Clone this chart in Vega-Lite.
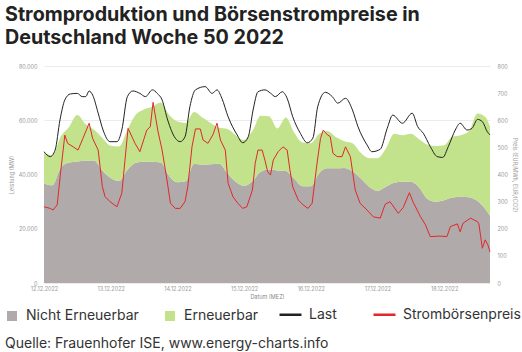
{
  "$schema": "https://vega.github.io/schema/vega-lite/v6.json",
  "width": 446,
  "height": 217,
  "autosize": {"type": "none"},
  "padding": {"left": 44, "top": 66, "right": 32, "bottom": 69},
  "background": "white",
  "config": {"view": {"stroke": null}, "font": "Inter"},
  "title": {
    "text": ["Stromproduktion und Börsenstrompreise in", "Deutschland Woche 50 2022"],
    "anchor": "start",
    "frame": "group",
    "dx": -39,
    "offset": 16,
    "fontSize": 19.7,
    "fontWeight": "bold",
    "color": "#222222",
    "lineHeight": 23,
    "font": "Inter"
  },
  "datasets": {
    "erzeugung": [
      {"zeit": "2022-12-12T00:00", "nicht_erneuerbar": 36700, "erneuerbar": 11500},
      {"zeit": "2022-12-12T03:00", "nicht_erneuerbar": 36000, "erneuerbar": 11000},
      {"zeit": "2022-12-12T06:00", "nicht_erneuerbar": 42500, "erneuerbar": 11400},
      {"zeit": "2022-12-12T09:00", "nicht_erneuerbar": 44400, "erneuerbar": 13100},
      {"zeit": "2022-12-12T12:00", "nicht_erneuerbar": 44800, "erneuerbar": 17100},
      {"zeit": "2022-12-12T15:00", "nicht_erneuerbar": 45100, "erneuerbar": 13400},
      {"zeit": "2022-12-12T18:00", "nicht_erneuerbar": 45200, "erneuerbar": 11300},
      {"zeit": "2022-12-12T21:00", "nicht_erneuerbar": 41500, "erneuerbar": 12000},
      {"zeit": "2022-12-13T00:00", "nicht_erneuerbar": 38700, "erneuerbar": 11900},
      {"zeit": "2022-12-13T03:00", "nicht_erneuerbar": 37600, "erneuerbar": 12700},
      {"zeit": "2022-12-13T06:00", "nicht_erneuerbar": 41700, "erneuerbar": 14700},
      {"zeit": "2022-12-13T09:00", "nicht_erneuerbar": 44300, "erneuerbar": 17700},
      {"zeit": "2022-12-13T12:00", "nicht_erneuerbar": 44700, "erneuerbar": 19300},
      {"zeit": "2022-12-13T15:00", "nicht_erneuerbar": 44700, "erneuerbar": 20300},
      {"zeit": "2022-12-13T18:00", "nicht_erneuerbar": 44400, "erneuerbar": 22100},
      {"zeit": "2022-12-13T21:00", "nicht_erneuerbar": 39500, "erneuerbar": 22500},
      {"zeit": "2022-12-14T00:00", "nicht_erneuerbar": 37100, "erneuerbar": 22400},
      {"zeit": "2022-12-14T03:00", "nicht_erneuerbar": 37500, "erneuerbar": 21500},
      {"zeit": "2022-12-14T06:00", "nicht_erneuerbar": 44000, "erneuerbar": 19000},
      {"zeit": "2022-12-14T09:00", "nicht_erneuerbar": 43700, "erneuerbar": 17300},
      {"zeit": "2022-12-14T12:00", "nicht_erneuerbar": 43800, "erneuerbar": 15200},
      {"zeit": "2022-12-14T15:00", "nicht_erneuerbar": 44000, "erneuerbar": 13200},
      {"zeit": "2022-12-14T18:00", "nicht_erneuerbar": 40500, "erneuerbar": 16300},
      {"zeit": "2022-12-14T21:00", "nicht_erneuerbar": 37300, "erneuerbar": 17200},
      {"zeit": "2022-12-15T00:00", "nicht_erneuerbar": 35800, "erneuerbar": 16900},
      {"zeit": "2022-12-15T03:00", "nicht_erneuerbar": 37500, "erneuerbar": 18500},
      {"zeit": "2022-12-15T06:00", "nicht_erneuerbar": 41000, "erneuerbar": 20700},
      {"zeit": "2022-12-15T09:00", "nicht_erneuerbar": 41800, "erneuerbar": 19700},
      {"zeit": "2022-12-15T12:00", "nicht_erneuerbar": 41500, "erneuerbar": 15500},
      {"zeit": "2022-12-15T15:00", "nicht_erneuerbar": 41300, "erneuerbar": 19700},
      {"zeit": "2022-12-15T18:00", "nicht_erneuerbar": 38500, "erneuerbar": 17000},
      {"zeit": "2022-12-15T21:00", "nicht_erneuerbar": 35700, "erneuerbar": 16100},
      {"zeit": "2022-12-16T00:00", "nicht_erneuerbar": 35700, "erneuerbar": 15800},
      {"zeit": "2022-12-16T03:00", "nicht_erneuerbar": 40500, "erneuerbar": 14500},
      {"zeit": "2022-12-16T06:00", "nicht_erneuerbar": 42300, "erneuerbar": 13700},
      {"zeit": "2022-12-16T09:00", "nicht_erneuerbar": 42300, "erneuerbar": 11500},
      {"zeit": "2022-12-16T12:00", "nicht_erneuerbar": 42400, "erneuerbar": 9900},
      {"zeit": "2022-12-16T15:00", "nicht_erneuerbar": 41200, "erneuerbar": 10300},
      {"zeit": "2022-12-16T18:00", "nicht_erneuerbar": 38500, "erneuerbar": 9500},
      {"zeit": "2022-12-16T21:00", "nicht_erneuerbar": 35500, "erneuerbar": 10500},
      {"zeit": "2022-12-17T00:00", "nicht_erneuerbar": 34000, "erneuerbar": 12000},
      {"zeit": "2022-12-17T03:00", "nicht_erneuerbar": 35500, "erneuerbar": 14000},
      {"zeit": "2022-12-17T06:00", "nicht_erneuerbar": 37000, "erneuerbar": 18000},
      {"zeit": "2022-12-17T09:00", "nicht_erneuerbar": 37300, "erneuerbar": 17200},
      {"zeit": "2022-12-17T12:00", "nicht_erneuerbar": 37300, "erneuerbar": 17700},
      {"zeit": "2022-12-17T15:00", "nicht_erneuerbar": 35200, "erneuerbar": 17800},
      {"zeit": "2022-12-17T18:00", "nicht_erneuerbar": 31000, "erneuerbar": 20000},
      {"zeit": "2022-12-17T21:00", "nicht_erneuerbar": 30000, "erneuerbar": 20500},
      {"zeit": "2022-12-18T00:00", "nicht_erneuerbar": 30500, "erneuerbar": 20300},
      {"zeit": "2022-12-18T03:00", "nicht_erneuerbar": 31500, "erneuerbar": 22500},
      {"zeit": "2022-12-18T06:00", "nicht_erneuerbar": 31800, "erneuerbar": 22700},
      {"zeit": "2022-12-18T09:00", "nicht_erneuerbar": 31600, "erneuerbar": 24400},
      {"zeit": "2022-12-18T12:00", "nicht_erneuerbar": 30200, "erneuerbar": 32300},
      {"zeit": "2022-12-18T15:00", "nicht_erneuerbar": 27000, "erneuerbar": 34000},
      {"zeit": "2022-12-18T16:30", "nicht_erneuerbar": 24800, "erneuerbar": 32800}
    ],
    "last": [
      {"zeit": "2022-12-12T00:00", "last": 48400},
      {"zeit": "2022-12-12T02:15", "last": 46600},
      {"zeit": "2022-12-12T04:00", "last": 49000},
      {"zeit": "2022-12-12T05:45", "last": 60100},
      {"zeit": "2022-12-12T07:30", "last": 67500},
      {"zeit": "2022-12-12T09:30", "last": 69700},
      {"zeit": "2022-12-12T12:00", "last": 69900},
      {"zeit": "2022-12-12T13:45", "last": 68700},
      {"zeit": "2022-12-12T15:00", "last": 68700},
      {"zeit": "2022-12-12T16:15", "last": 70800},
      {"zeit": "2022-12-12T17:30", "last": 69300},
      {"zeit": "2022-12-12T19:30", "last": 62600},
      {"zeit": "2022-12-12T21:15", "last": 56400},
      {"zeit": "2022-12-12T23:45", "last": 52100},
      {"zeit": "2022-12-13T02:15", "last": 52100},
      {"zeit": "2022-12-13T04:00", "last": 56400},
      {"zeit": "2022-12-13T06:00", "last": 68700},
      {"zeit": "2022-12-13T08:00", "last": 70800},
      {"zeit": "2022-12-13T10:30", "last": 69900},
      {"zeit": "2022-12-13T12:30", "last": 68700},
      {"zeit": "2022-12-13T15:00", "last": 71200},
      {"zeit": "2022-12-13T16:45", "last": 69900},
      {"zeit": "2022-12-13T18:30", "last": 67500},
      {"zeit": "2022-12-13T20:30", "last": 60100},
      {"zeit": "2022-12-13T23:15", "last": 53400},
      {"zeit": "2022-12-14T01:00", "last": 52100},
      {"zeit": "2022-12-14T02:45", "last": 53900},
      {"zeit": "2022-12-14T04:30", "last": 65000},
      {"zeit": "2022-12-14T06:30", "last": 71200},
      {"zeit": "2022-12-14T10:00", "last": 72400},
      {"zeit": "2022-12-14T12:30", "last": 69900},
      {"zeit": "2022-12-14T14:15", "last": 71200},
      {"zeit": "2022-12-14T16:00", "last": 68100},
      {"zeit": "2022-12-14T18:15", "last": 61300},
      {"zeit": "2022-12-14T21:30", "last": 54600},
      {"zeit": "2022-12-14T23:30", "last": 51700},
      {"zeit": "2022-12-15T01:30", "last": 53900},
      {"zeit": "2022-12-15T03:15", "last": 63800},
      {"zeit": "2022-12-15T05:00", "last": 70500},
      {"zeit": "2022-12-15T07:30", "last": 71200},
      {"zeit": "2022-12-15T09:30", "last": 70000},
      {"zeit": "2022-12-15T11:15", "last": 68700},
      {"zeit": "2022-12-15T13:45", "last": 70500},
      {"zeit": "2022-12-15T15:30", "last": 68100},
      {"zeit": "2022-12-15T17:30", "last": 61300},
      {"zeit": "2022-12-15T20:15", "last": 55200},
      {"zeit": "2022-12-15T22:45", "last": 51700},
      {"zeit": "2022-12-16T00:45", "last": 53400},
      {"zeit": "2022-12-16T02:30", "last": 65000},
      {"zeit": "2022-12-16T05:15", "last": 70300},
      {"zeit": "2022-12-16T07:45", "last": 68700},
      {"zeit": "2022-12-16T09:45", "last": 66300},
      {"zeit": "2022-12-16T12:30", "last": 68100},
      {"zeit": "2022-12-16T15:00", "last": 63800},
      {"zeit": "2022-12-16T17:00", "last": 57600},
      {"zeit": "2022-12-16T20:15", "last": 50900},
      {"zeit": "2022-12-16T22:00", "last": 48400},
      {"zeit": "2022-12-17T01:00", "last": 49300},
      {"zeit": "2022-12-17T03:30", "last": 57000},
      {"zeit": "2022-12-17T05:30", "last": 61900},
      {"zeit": "2022-12-17T09:00", "last": 58900},
      {"zeit": "2022-12-17T12:30", "last": 62600},
      {"zeit": "2022-12-17T14:30", "last": 57600},
      {"zeit": "2022-12-17T16:30", "last": 55200},
      {"zeit": "2022-12-17T19:00", "last": 50300},
      {"zeit": "2022-12-17T21:30", "last": 46600},
      {"zeit": "2022-12-17T23:30", "last": 46300},
      {"zeit": "2022-12-18T01:30", "last": 50300},
      {"zeit": "2022-12-18T04:00", "last": 56400},
      {"zeit": "2022-12-18T05:45", "last": 58900},
      {"zeit": "2022-12-18T08:15", "last": 56400},
      {"zeit": "2022-12-18T10:00", "last": 57000},
      {"zeit": "2022-12-18T12:00", "last": 60300},
      {"zeit": "2022-12-18T13:45", "last": 59500},
      {"zeit": "2022-12-18T15:30", "last": 55800},
      {"zeit": "2022-12-18T16:30", "last": 54600}
    ],
    "preis": [
      {"zeit": "2022-12-12T00:00", "preis": 281},
      {"zeit": "2022-12-12T02:15", "preis": 275},
      {"zeit": "2022-12-12T03:15", "preis": 269},
      {"zeit": "2022-12-12T04:45", "preis": 288},
      {"zeit": "2022-12-12T06:00", "preis": 410},
      {"zeit": "2022-12-12T07:30", "preis": 545},
      {"zeit": "2022-12-12T08:30", "preis": 515},
      {"zeit": "2022-12-12T10:30", "preis": 502},
      {"zeit": "2022-12-12T12:15", "preis": 490},
      {"zeit": "2022-12-12T14:00", "preis": 533},
      {"zeit": "2022-12-12T16:15", "preis": 589},
      {"zeit": "2022-12-12T17:30", "preis": 533},
      {"zeit": "2022-12-12T19:30", "preis": 490},
      {"zeit": "2022-12-12T21:00", "preis": 355},
      {"zeit": "2022-12-12T22:00", "preis": 318},
      {"zeit": "2022-12-12T23:45", "preis": 300},
      {"zeit": "2022-12-13T02:15", "preis": 281},
      {"zeit": "2022-12-13T04:00", "preis": 331},
      {"zeit": "2022-12-13T06:15", "preis": 570},
      {"zeit": "2022-12-13T08:45", "preis": 515},
      {"zeit": "2022-12-13T10:30", "preis": 484},
      {"zeit": "2022-12-13T13:00", "preis": 564},
      {"zeit": "2022-12-13T14:15", "preis": 576},
      {"zeit": "2022-12-13T15:15", "preis": 666},
      {"zeit": "2022-12-13T17:00", "preis": 560},
      {"zeit": "2022-12-13T18:30", "preis": 490},
      {"zeit": "2022-12-13T20:15", "preis": 380},
      {"zeit": "2022-12-13T21:30", "preis": 294},
      {"zeit": "2022-12-13T23:15", "preis": 275},
      {"zeit": "2022-12-14T01:00", "preis": 275},
      {"zeit": "2022-12-14T02:45", "preis": 300},
      {"zeit": "2022-12-14T03:45", "preis": 355},
      {"zeit": "2022-12-14T05:15", "preis": 502},
      {"zeit": "2022-12-14T06:30", "preis": 568},
      {"zeit": "2022-12-14T08:15", "preis": 568},
      {"zeit": "2022-12-14T09:15", "preis": 527},
      {"zeit": "2022-12-14T11:00", "preis": 515},
      {"zeit": "2022-12-14T12:45", "preis": 546},
      {"zeit": "2022-12-14T14:15", "preis": 589},
      {"zeit": "2022-12-14T15:30", "preis": 527},
      {"zeit": "2022-12-14T17:15", "preis": 490},
      {"zeit": "2022-12-14T18:15", "preis": 368},
      {"zeit": "2022-12-14T20:00", "preis": 318},
      {"zeit": "2022-12-14T21:45", "preis": 294},
      {"zeit": "2022-12-14T23:30", "preis": 275},
      {"zeit": "2022-12-15T01:00", "preis": 281},
      {"zeit": "2022-12-15T03:00", "preis": 343},
      {"zeit": "2022-12-15T04:00", "preis": 441},
      {"zeit": "2022-12-15T05:00", "preis": 490},
      {"zeit": "2022-12-15T06:30", "preis": 490},
      {"zeit": "2022-12-15T07:30", "preis": 453},
      {"zeit": "2022-12-15T08:30", "preis": 410},
      {"zeit": "2022-12-15T09:30", "preis": 398},
      {"zeit": "2022-12-15T10:30", "preis": 453},
      {"zeit": "2022-12-15T12:15", "preis": 484},
      {"zeit": "2022-12-15T14:00", "preis": 502},
      {"zeit": "2022-12-15T15:30", "preis": 490},
      {"zeit": "2022-12-15T16:30", "preis": 417},
      {"zeit": "2022-12-15T17:30", "preis": 355},
      {"zeit": "2022-12-15T19:30", "preis": 306},
      {"zeit": "2022-12-15T21:15", "preis": 288},
      {"zeit": "2022-12-15T23:00", "preis": 275},
      {"zeit": "2022-12-16T00:30", "preis": 294},
      {"zeit": "2022-12-16T02:15", "preis": 441},
      {"zeit": "2022-12-16T03:30", "preis": 533},
      {"zeit": "2022-12-16T04:30", "preis": 564},
      {"zeit": "2022-12-16T06:00", "preis": 546},
      {"zeit": "2022-12-16T07:00", "preis": 540},
      {"zeit": "2022-12-16T08:00", "preis": 478},
      {"zeit": "2022-12-16T09:30", "preis": 466},
      {"zeit": "2022-12-16T11:15", "preis": 466},
      {"zeit": "2022-12-16T12:30", "preis": 502},
      {"zeit": "2022-12-16T14:15", "preis": 466},
      {"zeit": "2022-12-16T16:00", "preis": 343},
      {"zeit": "2022-12-16T17:45", "preis": 294},
      {"zeit": "2022-12-16T20:15", "preis": 269},
      {"zeit": "2022-12-16T22:30", "preis": 244},
      {"zeit": "2022-12-17T01:00", "preis": 239},
      {"zeit": "2022-12-17T02:45", "preis": 290},
      {"zeit": "2022-12-17T04:30", "preis": 300},
      {"zeit": "2022-12-17T07:30", "preis": 257},
      {"zeit": "2022-12-17T09:15", "preis": 278},
      {"zeit": "2022-12-17T11:30", "preis": 333},
      {"zeit": "2022-12-17T12:45", "preis": 300},
      {"zeit": "2022-12-17T15:30", "preis": 244},
      {"zeit": "2022-12-17T17:15", "preis": 215},
      {"zeit": "2022-12-17T19:00", "preis": 171},
      {"zeit": "2022-12-17T22:30", "preis": 173},
      {"zeit": "2022-12-18T01:00", "preis": 171},
      {"zeit": "2022-12-18T02:15", "preis": 208},
      {"zeit": "2022-12-18T04:45", "preis": 218},
      {"zeit": "2022-12-18T05:45", "preis": 189},
      {"zeit": "2022-12-18T06:45", "preis": 220},
      {"zeit": "2022-12-18T09:30", "preis": 239},
      {"zeit": "2022-12-18T12:00", "preis": 226},
      {"zeit": "2022-12-18T12:30", "preis": 218},
      {"zeit": "2022-12-18T13:45", "preis": 128},
      {"zeit": "2022-12-18T14:45", "preis": 159},
      {"zeit": "2022-12-18T15:45", "preis": 140},
      {"zeit": "2022-12-18T16:30", "preis": 115}
    ]
  },
  "layer": [
    {
      "layer": [
        {
          "data": {"name": "erzeugung"},
          "transform": [{"fold": ["nicht_erneuerbar", "erneuerbar"], "as": ["quelle", "leistung"]}],
          "mark": {"type": "area", "interpolate": "monotone"},
          "encoding": {
            "x": {
              "field": "zeit",
              "type": "temporal",
              "scale": {"domain": [
                {"year": 2022, "month": 12, "date": 12, "hours": 0},
                {"year": 2022, "month": 12, "date": 18, "hours": 16, "minutes": 30}
              ]},
              "axis": {
                "values": [
                  {"year": 2022, "month": 12, "date": 12},
                  {"year": 2022, "month": 12, "date": 13},
                  {"year": 2022, "month": 12, "date": 14},
                  {"year": 2022, "month": 12, "date": 15},
                  {"year": 2022, "month": 12, "date": 16},
                  {"year": 2022, "month": 12, "date": 17},
                  {"year": 2022, "month": 12, "date": 18}
                ],
                "format": "%d.%m.%Y",
                "labelFontSize": 5.5,
                "labelColor": "#999999",
                "labelFlush": false,
                "labelPadding": 3,
                "ticks": false,
                "domain": false,
                "grid": false,
                "title": "Datum (MEZ)",
                "titleFontSize": 5.5,
                "titleFontWeight": "normal",
                "titleColor": "#888888",
                "titlePadding": 3
              }
            },
            "y": {
              "field": "leistung",
              "type": "quantitative",
              "stack": "zero",
              "scale": {"domain": [0, 80000]},
              "axis": {
                "values": [0, 10000, 20000, 30000, 40000, 50000, 60000, 70000, 80000],
                "labelExpr": "replace(format(datum.value, ','), ',', '.')",
                "labelFontSize": 5.5,
                "labelColor": "#999999",
                "labelPadding": 7,
                "ticks": false,
                "domain": false,
                "grid": true,
                "gridColor": "#ebebeb",
                "title": "Leistung (MW)",
                "titleFontSize": 5.5,
                "titleFontWeight": "normal",
                "titleColor": "#999999",
                "titlePadding": 4
              }
            },
            "fill": {
              "field": "quelle",
              "type": "nominal",
              "scale": {"domain": ["nicht_erneuerbar", "erneuerbar"], "range": ["#b0abaa", "#c2e28c"]},
              "legend": {
                "orient": "none",
                "legendX": -39,
                "legendY": 243,
                "direction": "horizontal",
                "symbolType": "square",
                "symbolSize": 100,
                "symbolStrokeWidth": 0,
                "labelFontSize": 14,
                "labelColor": "#333333",
                "labelOffset": 7,
                "columnPadding": 24,
                "labelExpr": "datum.label == 'nicht_erneuerbar' ? 'Nicht Erneuerbar' : 'Erneuerbar'",
                "title": "Quelle: Frauenhofer ISE, www.energy-charts.info",
                "titleOrient": "bottom",
                "titleAnchor": "start",
                "titleFontSize": 14,
                "titleFontWeight": "normal",
                "titleColor": "#333333",
                "titlePadding": 14,
                "titleLimit": 500
              }
            },
            "order": {"field": "quelle", "sort": "descending"}
          }
        },
        {
          "data": {"name": "last"},
          "mark": {"type": "line", "interpolate": "monotone", "strokeWidth": 1},
          "encoding": {
            "x": {"field": "zeit", "type": "temporal"},
            "y": {"field": "last", "type": "quantitative"},
            "stroke": {
              "datum": "Last",
              "type": "nominal",
              "scale": {"domain": ["Last", "Strombörsenpreis"], "range": ["#222222", "#e3262b"]},
              "legend": {
                "orient": "none",
                "legendX": 234,
                "legendY": 236,
                "direction": "horizontal",
                "symbolType": "stroke",
                "symbolSize": 484,
                "symbolStrokeWidth": 2.5,
                "labelFontSize": 14,
                "labelColor": "#333333",
                "labelOffset": 6,
                "columnPadding": 31,
                "title": null
              }
            }
          }
        }
      ]
    },
    {
      "data": {"name": "preis"},
      "mark": {"type": "line", "strokeWidth": 1},
      "encoding": {
        "x": {"field": "zeit", "type": "temporal"},
        "y": {
          "field": "preis",
          "type": "quantitative",
          "scale": {"domain": [0, 800]},
          "axis": {
            "orient": "right",
            "values": [0, 100, 200, 300, 400, 500, 600, 700, 800],
            "labelFontSize": 5.5,
            "labelColor": "#999999",
            "labelPadding": 7,
            "ticks": false,
            "domain": false,
            "grid": false,
            "title": "Preis (EUR/MWh, EUR/tCO2)",
            "titleFontSize": 5.5,
            "titleFontWeight": "normal",
            "titleColor": "#999999",
            "titlePadding": 4
          }
        },
        "stroke": {"datum": "Strombörsenpreis", "type": "nominal"}
      }
    }
  ],
  "resolve": {"scale": {"y": "independent"}}
}
